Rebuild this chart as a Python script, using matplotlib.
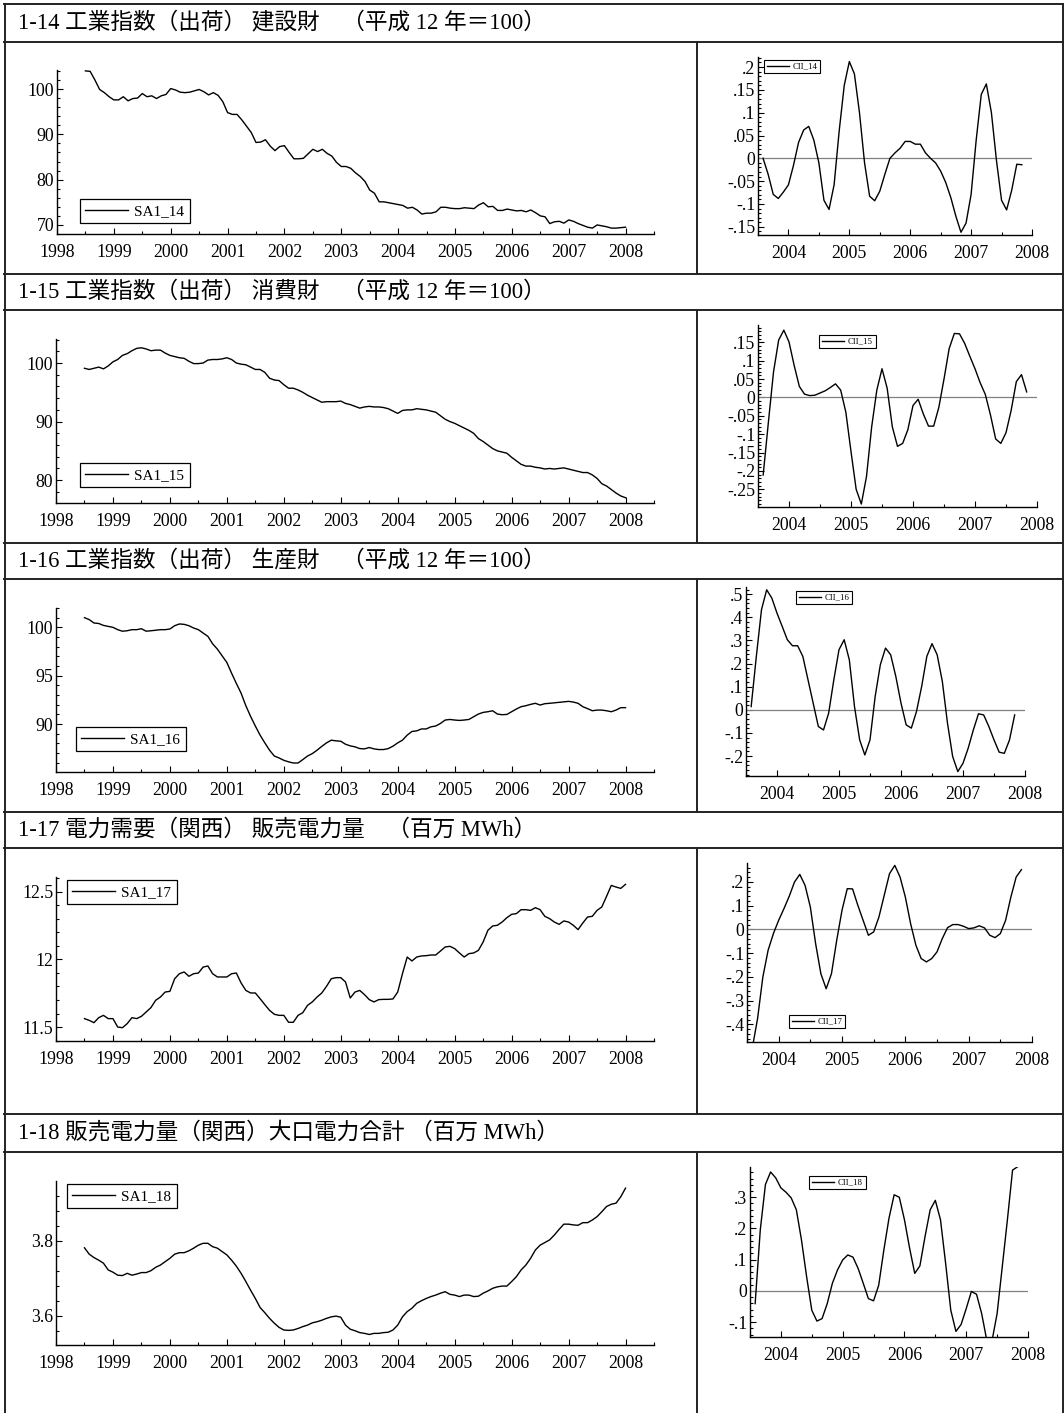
import numpy as np
import matplotlib.pyplot as plt
from matplotlib.lines import Line2D
from matplotlib.ticker import MultipleLocator, FuncFormatter

W, H = 1064, 1413

titles = [
    "1-14 工業指数（出荷） 建設財　（平成 12 年＝100）",
    "1-15 工業指数（出荷） 消費財　（平成 12 年＝100）",
    "1-16 工業指数（出荷） 生産財　（平成 12 年＝100）",
    "1-17 電力需要（関西） 販売電力量　（百万 MWh）",
    "1-18 販売電力量（関西）大口電力合計 （百万 MWh）",
]
sa_names = ["SA1_14", "SA1_15", "SA1_16", "SA1_17", "SA1_18"]
cii_names = ["CII_14", "CII_15", "CII_16", "CII_17", "CII_18"]

# monthly, Jul 1998 .. Jan 2008
sa1_14 = [104.0, 103.9, 102.0, 99.9, 99.2, 98.3, 97.6, 97.6, 98.3, 97.4,
          97.9, 98.0, 99.0, 98.3, 98.5, 97.9, 98.5, 98.8, 100.1, 99.8,
          99.3, 99.2, 99.3, 99.6, 99.9, 99.4, 98.7, 99.2, 98.6, 97.2,
          94.8, 94.4, 94.4, 93.2, 91.8, 90.4, 88.2, 88.3, 88.8, 87.4,
          86.4, 87.3, 87.5, 86.0, 84.6, 84.6, 84.7, 85.7, 86.7, 86.2,
          86.7, 85.8, 85.2, 83.8, 82.9, 82.9, 82.5, 81.5, 80.7, 79.6,
          77.7, 77.0, 75.1, 75.1, 74.9, 74.7, 74.5, 74.3, 73.7, 73.9,
          73.3, 72.4, 72.6, 72.6, 72.9, 73.9, 73.9, 73.7, 73.6, 73.6,
          73.8, 73.7, 73.6, 74.4, 74.9, 74.0, 74.1, 73.2, 73.2, 73.5,
          73.3, 73.1, 73.2, 72.9, 73.3, 72.7, 72.0, 71.8, 70.3, 70.7,
          70.8, 70.4, 71.1, 70.8, 70.3, 69.9, 69.5, 69.3, 70.0, 69.8,
          69.6, 69.3, 69.3, 69.4, 69.5]
sa1_15 = [99.1, 98.9, 99.1, 99.3, 99.0, 99.5, 100.2, 100.6, 101.3, 101.6,
          102.1, 102.5, 102.6, 102.4, 102.1, 102.2, 102.2, 101.7, 101.3, 101.1,
          100.9, 100.8, 100.3, 99.9, 99.9, 100.0, 100.5, 100.6, 100.6, 100.7,
          100.9, 100.6, 100.0, 99.8, 99.7, 99.3, 98.9, 98.9, 98.4, 97.4,
          97.1, 97.0, 96.3, 95.7, 95.7, 95.4, 95.0, 94.5, 94.1, 93.7,
          93.3, 93.4, 93.4, 93.4, 93.5, 93.1, 92.9, 92.6, 92.3, 92.5,
          92.6, 92.5, 92.5, 92.4, 92.2, 91.8, 91.4, 91.9, 92.0, 92.0,
          92.2, 92.1, 92.0, 91.8, 91.6, 91.0, 90.4, 90.0, 89.7, 89.3,
          88.9, 88.5, 88.0, 87.1, 86.6, 86.0, 85.4, 85.0, 84.8, 84.6,
          83.9, 83.3, 82.7, 82.4, 82.4, 82.2, 82.1, 81.9, 82.0, 81.9,
          82.0, 82.1, 81.9, 81.7, 81.5, 81.3, 81.3, 80.9, 80.3, 79.4,
          79.0, 78.4, 77.8, 77.3, 77.0]
sa1_16 = [101.0, 100.8, 100.45, 100.4, 100.2, 100.1, 100.0, 99.76, 99.6, 99.65,
          99.76, 99.76, 99.86, 99.6, 99.65, 99.7, 99.76, 99.76, 99.83, 100.17,
          100.35, 100.31, 100.17, 99.93, 99.76, 99.41, 99.07, 98.3, 97.75, 97.06,
          96.37, 95.26, 94.2, 93.2, 91.9, 90.8, 89.8, 88.86, 88.06, 87.3,
          86.7, 86.5, 86.26, 86.1, 85.98, 85.98, 86.33, 86.7, 86.95, 87.3,
          87.7, 88.06, 88.34, 88.27, 88.23, 87.92, 87.75, 87.65, 87.47, 87.44,
          87.58, 87.44, 87.37, 87.37, 87.47, 87.72, 88.06, 88.34, 88.86, 89.24,
          89.3, 89.5, 89.5, 89.72, 89.8, 90.07, 90.42, 90.48, 90.42, 90.38,
          90.42, 90.48, 90.76, 91.04, 91.21, 91.28, 91.38, 91.04, 90.97, 91.0,
          91.28, 91.56, 91.8, 91.9, 92.04, 92.15, 91.97, 92.11, 92.15, 92.2,
          92.25, 92.3, 92.35, 92.28, 92.15, 91.8, 91.6, 91.38, 91.45, 91.45,
          91.38, 91.28, 91.45, 91.7, 91.7]
sa1_17 = [11.563, 11.550, 11.533, 11.570, 11.587, 11.563, 11.563, 11.501, 11.496, 11.526,
          11.570, 11.563, 11.580, 11.612, 11.644, 11.698, 11.722, 11.759, 11.764, 11.857,
          11.894, 11.907, 11.875, 11.894, 11.899, 11.943, 11.951, 11.894, 11.870, 11.870,
          11.870, 11.894, 11.899, 11.826, 11.771, 11.752, 11.752, 11.710, 11.666, 11.624,
          11.595, 11.587, 11.587, 11.536, 11.536, 11.587, 11.607, 11.661, 11.686, 11.722,
          11.752, 11.801, 11.857, 11.865, 11.865, 11.833, 11.715, 11.759, 11.771, 11.740,
          11.703, 11.686, 11.703, 11.705, 11.705, 11.708, 11.759, 11.894, 12.017, 11.988,
          12.017, 12.025, 12.027, 12.032, 12.032, 12.061, 12.091, 12.096, 12.079, 12.047,
          12.017, 12.042, 12.047, 12.066, 12.128, 12.214, 12.246, 12.251, 12.275, 12.307,
          12.332, 12.337, 12.366, 12.366, 12.361, 12.381, 12.366, 12.317, 12.300, 12.275,
          12.258, 12.283, 12.275, 12.251, 12.219, 12.268, 12.312, 12.317, 12.361, 12.386,
          12.464, 12.545, 12.533, 12.523, 12.553]
sa1_18 = [3.781, 3.764, 3.755, 3.748, 3.740, 3.722, 3.716, 3.708, 3.707, 3.713,
          3.708, 3.711, 3.715, 3.715, 3.720, 3.729, 3.735, 3.744, 3.753, 3.764,
          3.768, 3.768, 3.773, 3.780, 3.788, 3.793, 3.793, 3.784, 3.780, 3.771,
          3.762, 3.748, 3.732, 3.713, 3.691, 3.668, 3.646, 3.622, 3.608, 3.593,
          3.580, 3.569, 3.562, 3.561, 3.562, 3.566, 3.571, 3.575, 3.581, 3.584,
          3.588, 3.593, 3.597, 3.599, 3.596, 3.575, 3.564, 3.560, 3.555, 3.553,
          3.550, 3.553, 3.553, 3.555, 3.556, 3.562, 3.575, 3.597, 3.611, 3.620,
          3.633, 3.640, 3.646, 3.651, 3.655, 3.660, 3.664, 3.657, 3.655, 3.651,
          3.655, 3.655, 3.651, 3.652, 3.660, 3.666, 3.673, 3.677, 3.679, 3.679,
          3.691, 3.704, 3.722, 3.735, 3.753, 3.775, 3.788, 3.795, 3.802, 3.815,
          3.830, 3.844, 3.844, 3.842, 3.841, 3.848, 3.848, 3.855, 3.864, 3.877,
          3.891, 3.897, 3.900, 3.917, 3.940]

# monthly, Aug 2003 .. Nov 2007
cii_14 = [0.0, -0.035, -0.079, -0.088, -0.074, -0.058, -0.015, 0.035, 0.062, 0.070,
          0.040, -0.010, -0.092, -0.112, -0.058, 0.060, 0.160, 0.212, 0.185, 0.100,
          -0.010, -0.083, -0.093, -0.072, -0.035, 0.000, 0.012, 0.022, 0.037, 0.037,
          0.031, 0.031, 0.012, 0.000, -0.010, -0.028, -0.053, -0.086, -0.127, -0.162,
          -0.142, -0.079, 0.040, 0.140, 0.163, 0.100, -0.005, -0.092, -0.113, -0.070,
          -0.013, -0.014]
cii_15 = [-0.211, -0.069, 0.069, 0.156, 0.183, 0.151, 0.087, 0.030, 0.009, 0.005,
          0.006, 0.012, 0.018, 0.027, 0.037, 0.020, -0.040, -0.147, -0.250, -0.290,
          -0.215, -0.080, 0.020, 0.078, 0.025, -0.080, -0.133, -0.125, -0.088, -0.022,
          -0.005, -0.045, -0.078, -0.078, -0.027, 0.050, 0.133, 0.174, 0.173, 0.147,
          0.112, 0.078, 0.040, 0.008, -0.048, -0.113, -0.125, -0.096, -0.035, 0.043,
          0.062, 0.015]
cii_16 = [0.014, 0.231, 0.433, 0.519, 0.483, 0.418, 0.361, 0.303, 0.277, 0.277,
          0.231, 0.130, 0.029, -0.072, -0.087, -0.014, 0.130, 0.260, 0.303, 0.216,
          0.014, -0.130, -0.195, -0.130, 0.058, 0.195, 0.267, 0.238, 0.144, 0.029,
          -0.065, -0.079, -0.007, 0.101, 0.231, 0.286, 0.238, 0.123, -0.058, -0.202,
          -0.267, -0.231, -0.166, -0.087, -0.017, -0.022, -0.072, -0.130, -0.183, -0.188,
          -0.130, -0.022]
cii_17 = [-0.50, -0.376, -0.201, -0.088, -0.018, 0.038, 0.087, 0.139, 0.199, 0.231,
          0.185, 0.094, -0.060, -0.187, -0.250, -0.187, -0.046, 0.080, 0.171, 0.170,
          0.101, 0.038, -0.025, -0.011, 0.052, 0.143, 0.234, 0.269, 0.220, 0.136,
          0.024, -0.067, -0.123, -0.137, -0.123, -0.095, -0.039, 0.007, 0.020, 0.020,
          0.013, 0.003, 0.006, 0.015, 0.006, -0.025, -0.035, -0.018, 0.038, 0.136,
          0.220, 0.251]
cii_18 = [-0.041, 0.196, 0.341, 0.381, 0.362, 0.330, 0.316, 0.298, 0.260, 0.163,
          0.045, -0.062, -0.097, -0.089, -0.041, 0.024, 0.067, 0.099, 0.115, 0.108,
          0.072, 0.024, -0.025, -0.032, 0.018, 0.131, 0.233, 0.308, 0.300, 0.228,
          0.137, 0.056, 0.080, 0.174, 0.260, 0.290, 0.228, 0.088, -0.062, -0.130,
          -0.108, -0.057, -0.002, -0.011, -0.073, -0.159, -0.161, -0.073, 0.077, 0.228,
          0.387, 0.398]

sa_series = [sa1_14, sa1_15, sa1_16, sa1_17, sa1_18]
cii_series = [cii_14, cii_15, cii_16, cii_17, cii_18]
sa_start = 1998 + 6 / 12
cii_start = 2003 + 7 / 12

# layout in pixels (left, top, right, bottom)
row_lines = [4, 42, 274, 310, 543, 579, 812, 848, 1114, 1152]
title_y = [23, 292, 561, 830, 1133]
sa_box = [(57, 70, 654, 234), (56, 339, 654, 503), (56, 608, 654, 772),
          (56, 877, 654, 1041), (56, 1181, 654, 1345)]
cii_box = [(758, 57, 1032, 235), (758, 325, 1037, 507), (746, 587, 1025, 776),
           (747, 863, 1032, 1042), (750, 1167, 1028, 1337)]
sa_ylim = [(68, 104.2), (76.1, 104.1), (85.05, 102), (11.398, 12.607), (3.522, 3.959)]
sa_step = [10, 10, 5, 0.5, 0.2]
sa_minor = [2, 2, 1, 0.1, 0.04]
cii_ylim = [(-0.168, 0.222), (-0.298, 0.197), (-0.286, 0.531), (-0.474, 0.279), (-0.148, 0.397)]
cii_step = [0.05, 0.05, 0.1, 0.1, 0.1]
sa_leg = [(80, 199), (80, 463), (76, 727), (67, 880), (67, 1184)]
cii_leg = [(764, 60), (819, 335), (796, 591), (789, 1015), (809, 1176)]

serif = ["Liberation Serif", "DejaVu Serif"]
plt.rcParams["font.family"] = serif

fig = plt.figure(figsize=(W / 100, H / 100), dpi=100)


def px_axes(box):
    l, t, r, b = box
    return fig.add_axes([l / W, 1 - b / H, (r - l) / W, (b - t) / H])


def line(x0, y0, x1, y1):
    fig.add_artist(Line2D([x0 / W, x1 / W], [1 - y0 / H, 1 - y1 / H],
                          transform=fig.transFigure, color="#222222", lw=1.4))


def short_fmt(v, pos):
    s = f"{v:.2f}".rstrip("0").rstrip(".")
    if s in ("-0", "0"):
        return "0"
    if s.startswith("0."):
        s = s[1:]
    elif s.startswith("-0."):
        s = "-" + s[2:]
    return s


def style(ax):
    for sp in ("top", "right"):
        ax.spines[sp].set_visible(False)
    for sp in ("left", "bottom"):
        ax.spines[sp].set_linewidth(1.0)
    ax.tick_params(which="both", direction="in", labelsize=12.8, width=0.8)
    ax.tick_params(which="major", length=4)
    ax.tick_params(which="minor", length=2)
    ax.tick_params(axis="y", pad=2)
    ax.tick_params(axis="x", pad=7)
    ax.patch.set_alpha(0)


# table frame
for y in row_lines:
    line(4, y, 1064, y)
line(4.5, 4, 4.5, H)
line(1062.5, 4, 1062.5, H)
for i in range(5):
    line(697, row_lines[2 * i + 1], 697, row_lines[2 * i + 2] if 2 * i + 2 < len(row_lines) else H)

for i in range(5):
    fig.text(18 / W, 1 - title_y[i] / H, titles[i], fontsize=16.3, va="center", ha="left",
             family=["Liberation Serif", "Noto Sans CJK JP"])

    # left: seasonally adjusted series
    ax = px_axes(sa_box[i])
    y = np.array(sa_series[i])
    x = sa_start + np.arange(len(y)) / 12
    ax.plot(x, y, color="black", lw=1.0, label=sa_names[i])
    ax.set_xlim(1998, 2008.5)
    ax.set_ylim(*sa_ylim[i])
    ax.xaxis.set_major_locator(MultipleLocator(1))
    ax.xaxis.set_minor_locator(MultipleLocator(0.5))
    ax.xaxis.set_major_formatter(FuncFormatter(lambda v, p: f"{v:.0f}"))
    ax.yaxis.set_major_locator(MultipleLocator(sa_step[i]))
    ax.yaxis.set_minor_locator(MultipleLocator(sa_minor[i]))
    ax.yaxis.set_major_formatter(FuncFormatter(lambda v, p: f"{v:g}"))
    style(ax)
    lx, ly = sa_leg[i]
    ax.legend(loc="upper left", bbox_to_anchor=(lx / W, 1 - ly / H), bbox_transform=fig.transFigure,
              borderaxespad=0, fancybox=False, framealpha=1, edgecolor="black", fontsize=11,
              handlelength=2.8, handletextpad=0.4, borderpad=0.35)
    ax.get_legend().get_frame().set_linewidth(0.9)

    # right: cyclical component
    ax2 = px_axes(cii_box[i])
    c = np.array(cii_series[i])
    xc = cii_start + np.arange(len(c)) / 12
    ax2.axhline(0, color="#808080", lw=0.9)
    ax2.plot(xc, c, color="black", lw=1.0, label=cii_names[i])
    ax2.set_xlim(2003.5, 2008.0)
    ax2.set_ylim(*cii_ylim[i])
    ax2.xaxis.set_major_locator(MultipleLocator(1))
    ax2.xaxis.set_minor_locator(MultipleLocator(0.5))
    ax2.xaxis.set_major_formatter(FuncFormatter(lambda v, p: f"{v:.0f}"))
    ax2.yaxis.set_major_locator(MultipleLocator(cii_step[i]))
    ax2.yaxis.set_minor_locator(MultipleLocator(cii_step[i] / 5))
    ax2.yaxis.set_major_formatter(FuncFormatter(short_fmt))
    style(ax2)
    cx, cy = cii_leg[i]
    ax2.legend(loc="upper left", bbox_to_anchor=(cx / W, 1 - cy / H), bbox_transform=fig.transFigure,
               borderaxespad=0, fancybox=False, framealpha=1, edgecolor="black", fontsize=6.3,
               handlelength=2.6, handletextpad=0.4, borderpad=0.3)
    ax2.get_legend().get_frame().set_linewidth(0.8)

fig.savefig("out.png", dpi=100)
